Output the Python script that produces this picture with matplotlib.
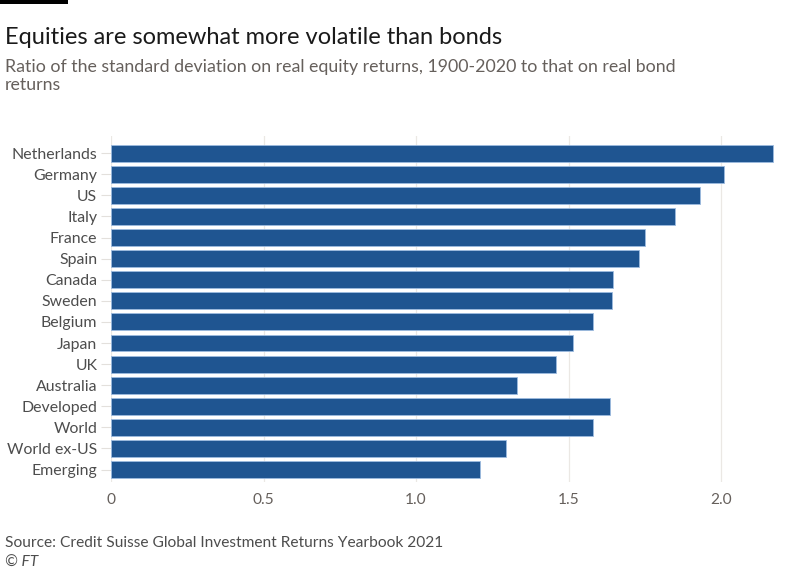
import matplotlib
matplotlib.use('agg')
from matplotlib import pyplot as plt

# 数据
countries = ['Netherlands', 'Germany', 'US', 'Italy', 'France', 'Spain', 'Canada', 'Sweden',
             'Belgium', 'Japan', 'UK', 'Australia', 'Developed', 'World', 'World ex-US', 'Emerging']
ratios = [2.17, 2.01, 1.93, 1.85, 1.75, 1.73, 1.645, 1.643,
          1.58, 1.515, 1.46, 1.33, 1.635, 1.58, 1.295, 1.21]
x_ticks = [0, 0.5, 1.0, 1.5, 2.0]
x_tick_labels = ['0', '0.5', '1.0', '1.5', '2.0']

plt.rcParams['font.family'] = ['Lato', 'DejaVu Sans']

fig = plt.figure(figsize=(8, 5.71), dpi=100)
ax = fig.add_axes([0.139, 0.1555, 0.8385, 0.6058])

ax.barh(range(len(countries)), ratios, height=0.8, color='#1f5591',
        edgecolor='#9dbbe0', linewidth=0.6, zorder=3)
ax.set_ylim(15.6, -0.8)
ax.set_xlim(0, 2.2)
ax.set_yticks(range(len(countries)))
ax.set_yticklabels(countries, fontsize=11.4, color='#4d4d4d')
ax.set_xticks(x_ticks)
ax.set_xticklabels(x_tick_labels, fontsize=11.2, color='#66605c')
ax.tick_params(axis='y', length=7, color='#e3e0dc', width=0.8, pad=3)
ax.tick_params(axis='x', length=0, pad=8)
ax.grid(axis='x', color='#ebe8e4', linewidth=0.9, zorder=0)
for s in ax.spines.values():
    s.set_visible(False)

# 标题与注释
fig.add_artist(plt.Rectangle((0, 1 - 4 / 571), 68 / 800, 4 / 571, transform=fig.transFigure,
                             color='black', lw=0))
fig.text(5 / 800, 1 - 38 / 571, 'Equities are somewhat more volatile than bonds',
         fontsize=17, color='#1a1a1a', va='center', ha='left')
fig.text(5 / 800, 1 - 76 / 571,
         'Ratio of the standard deviation on real equity returns, 1900-2020 to that on real bond\nreturns',
         fontsize=12.8, color='#66605c', va='center', ha='left', linespacing=1.18)
fig.text(5 / 800, 1 - 543 / 571, 'Source: Credit Suisse Global Investment Returns Yearbook 2021',
         fontsize=11.2, color='#4d4d4d', va='center', ha='left')
fig.text(5 / 800, 1 - 563 / 571, '© FT', fontsize=11.2, color='#4d4d4d', va='center', ha='left',
         style='italic')

fig.savefig('out.png', dpi=100)
